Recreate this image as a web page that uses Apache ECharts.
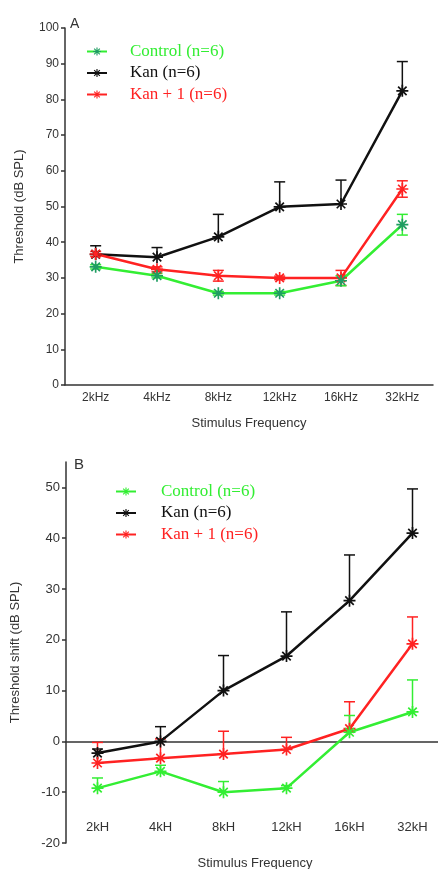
<!DOCTYPE html>
<html>
<head>
<meta charset="utf-8">
<script src="https://cdn.jsdelivr.net/npm/echarts@6/dist/echarts.min.js"></script>
<style>
  html, body { margin: 0; padding: 0; background: #fff; }
  #chart { width: 438px; height: 869px; }
</style>
</head>
<body>
<div id="chart"></div>
<script>
// panel A: absolute thresholds
const freqA = ['2kHz', '4kHz', '8kHz', '12kHz', '16kHz', '32kHz'];
const controlA = [33.1, 30.6, 25.7, 25.7, 29.2, 44.9];
const controlErrA = [0.6, 0.6, 0.5, 0.5, 1.4, 2.9];
const kanA = [36.6, 35.8, 41.5, 49.9, 50.7, 82.4];
const kanErrA = [2.4, 2.7, 6.3, 7.0, 6.7, 8.2];
const kan1A = [36.7, 32.4, 30.6, 30.0, 30.0, 54.9];
const kan1ErrA = [0.7, 0.7, 1.5, 0.5, 2.1, 2.3];

// panel B: threshold shift
const freqB = ['2kH', '4kH', '8kH', '12kH', '16kH', '32kH'];
const controlB = [-9.2, -5.9, -10.0, -9.2, 1.8, 5.8];
const controlErrB = [2.0, 1.2, 2.1, 0.5, 3.3, 6.3];
const kanB = [-2.3, 0.0, 10.0, 16.8, 27.7, 41.0];
const kanErrB = [0.8, 2.9, 6.9, 8.7, 9.0, 8.7];
const kan1B = [-4.25, -3.3, -2.5, -1.6, 2.5, 19.2];
const kan1ErrB = [4.05, 3.8, 4.5, 2.4, 5.3, 5.3];
const tickValuesB = [-20, -10, 0, 10, 20, 30, 40, 50];

const GREEN = '#33ee33';
const TEAL = '#1f9d62';
const BLACK = '#111111';
const RED = '#ff2222';
const FONT = 'Liberation Sans';
const SERIF = 'Liberation Serif';

// 8-armed asterisk marker
const STAR = 'path://M0,4.3L10,4.3L10,5.7L0,5.7Z' +
  'M4.3,0L5.7,0L5.7,10L4.3,10Z' +
  'M0.97,1.96L1.96,0.97L9.03,8.04L8.04,9.03Z' +
  'M8.04,0.97L9.03,1.96L1.96,9.03L0.97,8.04Z';

// [index, low, high, twoSided]
function errData(mean, err, twoSided) {
  return mean.map((m, i) => [i, twoSided ? m - err[i] : m, m + err[i], twoSided ? 1 : 0]);
}

function errRender(color) {
  return function (params, api) {
    const i = api.value(0);
    const lo = api.coord([i, api.value(1)]);
    const hi = api.coord([i, api.value(2)]);
    const half = 5.5;
    const style = { stroke: color, lineWidth: 1.5 };
    const kids = [
      { type: 'line', shape: { x1: lo[0], y1: lo[1], x2: hi[0], y2: hi[1] }, style: style },
      { type: 'line', shape: { x1: hi[0] - half, y1: hi[1], x2: hi[0] + half, y2: hi[1] }, style: style }
    ];
    if (api.value(3)) {
      kids.push({ type: 'line', shape: { x1: lo[0] - half, y1: lo[1], x2: lo[0] + half, y2: lo[1] }, style: style });
    }
    return { type: 'group', children: kids };
  };
}

function lineSeries(name, data, lineColor, markColor, idx) {
  return {
    name: name, type: 'line', data: data,
    xAxisIndex: idx, yAxisIndex: idx,
    symbol: STAR, symbolSize: 12,
    lineStyle: { color: lineColor, width: 2.5 },
    itemStyle: { color: markColor },
    animation: false
  };
}

function errSeries(name, data, color, idx) {
  return {
    name: name, type: 'custom', data: data,
    xAxisIndex: idx, yAxisIndex: idx,
    renderItem: errRender(color),
    encode: { x: 0, y: [1, 2] },
    animation: false
  };
}

const axisLineStyle = { color: '#333', width: 1.5 };
const labelStyle = { fontFamily: FONT, fontSize: 12, color: '#333' };
const nameStyle = { fontFamily: FONT, fontSize: 13, color: '#333' };

function legendFor(left, top, pad, controlMark) {
  return {
    left: left, top: top, orient: 'vertical',
    itemWidth: 20, itemHeight: 10, itemGap: 4.5,
    textStyle: { fontFamily: SERIF, fontSize: 17, lineHeight: 17, padding: [0, 0, 0, pad] },
    data: [
      { name: 'Control (n=6)', textStyle: { color: GREEN }, itemStyle: { color: controlMark } },
      { name: 'Kan (n=6)', textStyle: { color: BLACK } },
      { name: 'Kan + 1 (n=6)', textStyle: { color: RED } }
    ]
  };
}

const chart = echarts.init(document.getElementById('chart'));
chart.setOption({
  backgroundColor: '#fff',
  title: [
    { text: 'A', left: 65, top: 12, textStyle: { fontFamily: FONT, fontSize: 14, fontWeight: 'normal', color: '#333' } },
    { text: 'B', left: 69, top: 452, textStyle: { fontFamily: FONT, fontSize: 15, fontWeight: 'normal', color: '#333' } }
  ],
  legend: [
    legendFor(81, 38, 18, TEAL),
    legendFor(110, 478, 20, GREEN)
  ],
  grid: [
    { left: 65, top: 28, right: 5, height: 357, outerBoundsMode: 'none' },
    { left: 66, top: 462, right: -6, height: 381, outerBoundsMode: 'none' }
  ],
  xAxis: [
    {
      gridIndex: 0, type: 'category', data: freqA, boundaryGap: true,
      axisLine: { lineStyle: axisLineStyle },
      axisTick: { alignWithLabel: true, length: 4, lineStyle: axisLineStyle },
      axisLabel: Object.assign({ margin: 7 }, labelStyle),
      name: 'Stimulus Frequency', nameLocation: 'middle', nameGap: 32, nameTextStyle: nameStyle
    },
    {
      // zero line of panel B with its ticks
      gridIndex: 1, type: 'category', data: freqB, boundaryGap: true,
      axisLine: { onZero: true, lineStyle: axisLineStyle },
      axisTick: { alignWithLabel: true, length: 5, lineStyle: axisLineStyle },
      axisLabel: { show: false }
    },
    {
      // panel B labels sit low, above the -20 end of the y axis
      gridIndex: 1, type: 'category', data: freqB, boundaryGap: true, position: 'bottom',
      offset: -22,
      axisLine: { show: false, onZero: false },
      axisTick: { show: false },
      axisLabel: Object.assign({ margin: 0 }, labelStyle, { fontSize: 13 }),
      name: 'Stimulus Frequency', nameLocation: 'middle', nameGap: 36, nameTextStyle: nameStyle
    }
  ],
  yAxis: [
    {
      gridIndex: 0, type: 'value', min: 0, max: 100, interval: 10,
      axisLine: { show: true, lineStyle: axisLineStyle },
      axisTick: { show: true, length: 4, lineStyle: axisLineStyle },
      axisLabel: Object.assign({ margin: 6 }, labelStyle),
      splitLine: { show: false },
      name: 'Threshold (dB SPL)', nameLocation: 'middle', nameGap: 39, nameTextStyle: nameStyle
    },
    {
      gridIndex: 1, type: 'value', min: -20, max: 55, interval: 10,
      axisLine: { show: true, lineStyle: axisLineStyle },
      axisTick: { show: true, length: 4, lineStyle: axisLineStyle, customValues: tickValuesB },
      axisLabel: Object.assign({ margin: 6, customValues: tickValuesB }, labelStyle, { fontSize: 13 }),
      splitLine: { show: false },
      name: 'Threshold shift (dB SPL)', nameLocation: 'middle', nameGap: 44, nameTextStyle: nameStyle
    }
  ],
  series: [
    errSeries('kanErrA', errData(kanA, kanErrA, false), BLACK, 0),
    lineSeries('Kan (n=6)', kanA, BLACK, BLACK, 0),
    errSeries('kan1ErrA', errData(kan1A, kan1ErrA, true), RED, 0),
    lineSeries('Kan + 1 (n=6)', kan1A, RED, RED, 0),
    errSeries('controlErrA', errData(controlA, controlErrA, true), GREEN, 0),
    lineSeries('Control (n=6)', controlA, GREEN, TEAL, 0),

    errSeries('kanErrB', errData(kanB, kanErrB, false), BLACK, 1),
    lineSeries('Kan (n=6)', kanB, BLACK, BLACK, 1),
    errSeries('kan1ErrB', errData(kan1B, kan1ErrB, false), RED, 1),
    lineSeries('Kan + 1 (n=6)', kan1B, RED, RED, 1),
    errSeries('controlErrB', errData(controlB, controlErrB, false), GREEN, 1),
    lineSeries('Control (n=6)', controlB, GREEN, GREEN, 1)
  ]
});
window.addEventListener('resize', () => chart.resize());
</script>
</body>
</html>
